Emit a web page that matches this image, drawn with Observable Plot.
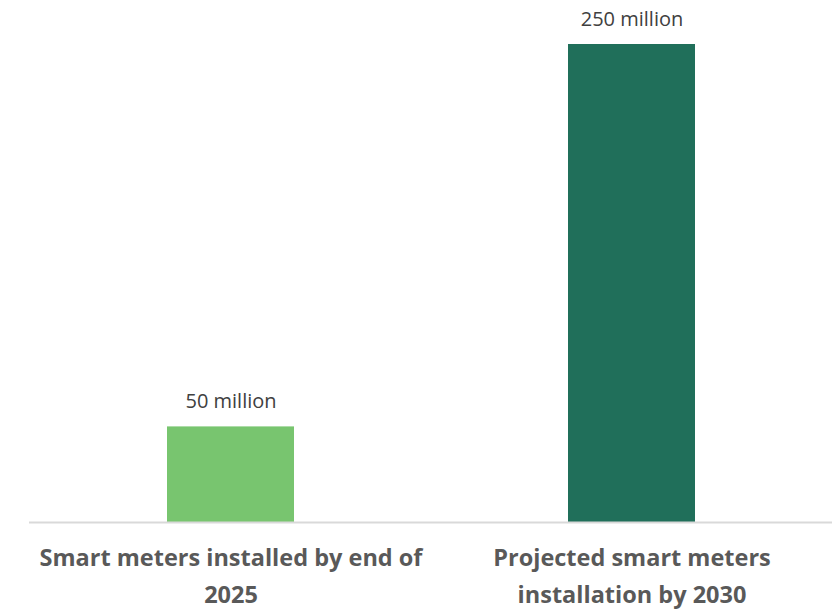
<!DOCTYPE html>
<html>
<head>
<meta charset="utf-8">
<script src="https://cdn.jsdelivr.net/npm/d3@7"></script>
<script src="https://cdn.jsdelivr.net/npm/@observablehq/plot@0.6"></script>
<style>
  html, body { margin: 0; padding: 0; background: #ffffff; }
  #chart { width: 833px; height: 611px; }
</style>
</head>
<body>
<div id="chart"></div>
<script>
const categories = [
  "Smart meters installed by end of\n2025",
  "Projected smart meters\ninstallation by 2030"
];
const values = [50, 250];
const valueLabels = ["50 million", "250 million"];
const colors = ["#78C56F", "#206F5A"];

const data = categories.map((c, i) => ({
  category: c,
  value: values[i],
  label: valueLabels[i],
  color: colors[i]
}));

const chart = Plot.plot({
  width: 833,
  height: 611,
  marginLeft: 29,
  marginRight: 1,
  marginTop: 44,
  marginBottom: 89,
  style: { fontFamily: "'Open Sans', sans-serif", background: "#ffffff" },
  x: { domain: categories, paddingInner: 0.684, paddingOuter: 0.342, axis: null },
  y: { domain: [0, 250], axis: null },
  marks: [
    Plot.barY(data, { x: "category", y: "value", fill: "color" }),
    Plot.ruleY([0], { stroke: "#D9D9D9", strokeWidth: 2 }),
    Plot.text(data, {
      x: "category", y: "value", text: "label",
      dy: -25, fontSize: 20, fill: "#404040", lineAnchor: "middle"
    }),
    Plot.text(data, {
      x: "category", y: () => 0, text: "category",
      dy: 50, fontSize: 23.5, fontWeight: "bold", fill: "#595959",
      lineAnchor: "middle", lineHeight: 1.6
    })
  ]
});
document.getElementById("chart").appendChild(chart);
</script>
</body>
</html>
